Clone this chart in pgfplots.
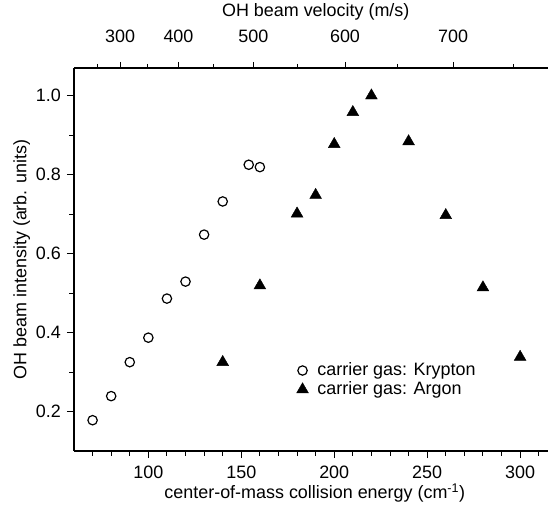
\documentclass[border=0pt]{standalone}
\usepackage{fontspec}
\setmainfont{Liberation Sans}
\usepackage{pgfplots}
\pgfplotsset{compat=1.18}

% collision energy vs. intensity, Kr and Ar carrier gas
\pgfplotstableread{
E     I
70    0.178
80    0.239
90    0.325
100   0.387
110   0.486
120   0.529
130   0.648
140   0.732
154   0.825
160   0.819
}\krypton

\pgfplotstableread{
E     I
140   0.325
160   0.519
180   0.701
190   0.748
200   0.877
210   0.958
220   1.000
240   0.884
260   0.697
280   0.514
300   0.338
}\argon

\begin{document}
\fontsize{18}{21}\selectfont
\begin{tikzpicture}
\pgfplotsset{
  common/.style={
    scale only axis, width=474bp, height=383bp,
    at={(0,0)}, anchor=south west,
    xmin=60, xmax=315, ymin=0.1, ymax=1.07,
    font=\fontsize{18}{21}\selectfont,
    tick align=outside,
    /pgf/number format/assume math mode=true,
    every tick/.style={black, line width=0.9pt},
    axis line style={line width=1.2pt, black},
  }
}
\begin{axis}[common,
  axis x line*=bottom, axis y line*=left,
  major tick length=7bp, minor tick length=4.5bp,
  xtick={100,150,...,300},
  minor xtick={70,80,...,310},
  ytick={0.2,0.4,0.6,0.8,1.0},
  minor ytick={0.3,0.5,0.7,0.9},
  yticklabel style={/pgf/number format/.cd, fixed, fixed zerofill, precision=1},
  xticklabel style={yshift=-2bp},
  xlabel={center-of-mass collision energy (cm\textsuperscript{-1})},
  ylabel={OH beam intensity (arb. units)},
  xlabel style={at={(axis description cs:0.508,-0.11)}, anchor=center},
  ylabel style={at={(axis description cs:-0.11,0.5)}, anchor=center},
  legend style={draw=none, fill=none, at={(rel axis cs:0.463,0.24)},
    anchor=north west, row sep=0.5bp,
    nodes={text height=13bp, text depth=3.5bp, inner ysep=1bp},
    /tikz/every odd column/.append style={column sep=7bp}},
  legend cell align=left,
]
\addplot[only marks, mark=o, mark size=4.7bp, line width=1.2pt, black]
  table[x=E, y=I] {\krypton};
\addplot[only marks, mark=triangle*, mark size=6.8bp, black]
  table[x=E, y=I] {\argon};
\legend{carrier gas: Krypton, carrier gas: Argon}
\end{axis}

% top scale: OH beam velocity
\begin{axis}[common,
  axis x line*=top, axis y line=none,
  major tick length=6bp, minor tick length=4bp,
  xtick={84.8,116.2,156.5,205.8,264.0},
  xticklabels={300,400,500,600,700},
  minor xtick={72.5,99.4,135.2,180.0,233.8,296.5},
  xticklabel style={yshift=13bp},
  ytick=\empty,
  xlabel={OH beam velocity (m/s)},
  xlabel style={at={(axis description cs:0.51,1.146)}, anchor=center},
]
\end{axis}

\pgfresetboundingbox
\path (-74bp,-56bp) rectangle (475bp,451bp);
\end{tikzpicture}
\end{document}
